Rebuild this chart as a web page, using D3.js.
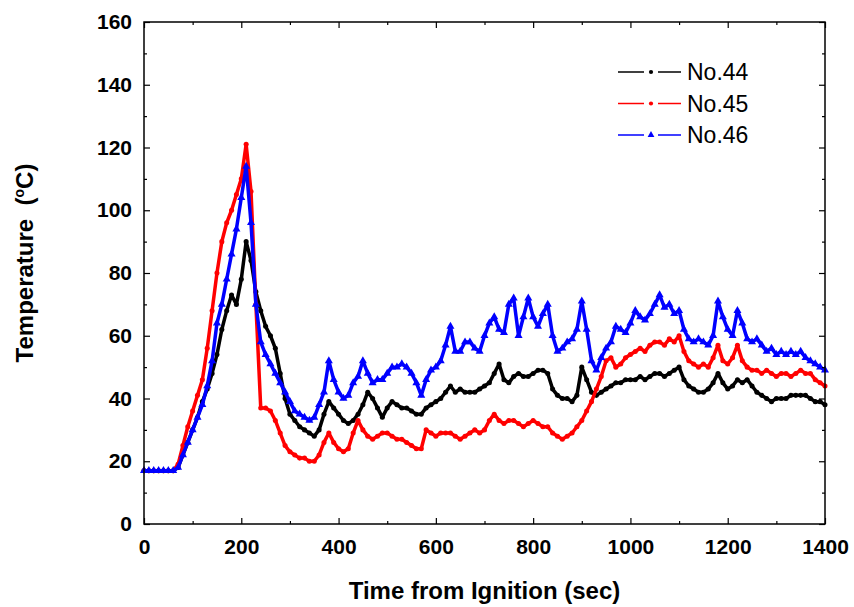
<!DOCTYPE html>
<html>
<head>
<meta charset="utf-8">
<script src="https://cdn.jsdelivr.net/npm/d3@7"></script>
<style>
  body { margin: 0; background: #fff; }
  svg { display: block; font-family: "Liberation Sans", Arial, sans-serif; }
  .axis path { display: none; }
  .axis line { stroke: #000; stroke-width: 1.2; }
  .axis text { font-size: 21px; font-weight: bold; fill: #000; }
</style>
</head>
<body>
<svg width="854" height="607"></svg>
<script>
// time axis, one reading every 10 s
const time = d3.range(0, 1401, 10);

// 10 values per row (0-90, 100-190, ...)
const no44 = [
  17,17,17,17,17,17,17,18,22,26,
  30,34,39,43,48,54,62,68,73,70,
  78,90,84,74,68,63,60,56,48,40,
  35,33,31,30,29,28,30,35,39,37,
  35,33,32,33,35,38,42,40,37,34,
  37,39,38,37,37,36,35,35,37,38,
  39,40,42,44,42,43,42,42,42,43,
  44,45,48,51,46,45,47,48,47,47,
  48,49,49,48,43,41,40,40,39,41,
  50,46,42,41,42,43,44,45,45,46,
  46,46,47,46,47,48,48,47,48,49,
  50,46,44,43,42,42,43,45,48,45,
  43,44,46,45,46,44,42,41,40,39,
  40,40,40,41,41,41,41,40,39,39,
  38
];

const no45 = [
  17,17,17,17,17,17,17,19,25,31,
  36,41,46,56,68,80,90,96,100,105,
  110,121,106,70,37,37,36,33,29,25,
  23,22,21,21,20,20,22,26,29,26,
  24,23,24,29,33,30,28,27,28,29,
  29,28,27,27,26,25,24,24,30,29,
  28,29,29,29,28,27,28,29,30,29,
  30,33,35,33,32,33,33,32,31,32,
  33,32,31,31,29,28,27,28,29,31,
  33,36,39,43,47,52,53,50,51,53,
  54,55,56,55,57,58,58,57,59,58,
  60,55,52,51,50,51,50,53,57,52,
  51,53,57,52,50,49,49,48,49,48,
  47,48,48,47,48,49,48,48,46,45,
  44
];

const no46 = [
  17,17,17,17,17,17,17,18,22,26,
  30,34,38,44,52,64,70,78,86,94,
  104,114,96,70,58,54,51,48,45,42,
  39,36,35,34,33,34,38,42,52,46,
  42,40,41,45,47,52,48,45,46,46,
  48,50,50,51,50,48,45,41,46,49,
  50,52,57,63,55,55,58,58,56,55,
  60,64,66,62,61,70,72,60,66,72,
  66,63,67,70,60,55,56,58,59,62,
  71,62,52,49,53,56,58,63,62,61,
  64,68,66,65,67,70,73,69,70,67,
  68,62,59,58,59,58,57,60,71,66,
  62,60,68,64,59,58,59,57,55,56,
  54,55,54,55,54,55,53,52,51,50,
  49
];

const seriesNames = ["No.44", "No.45", "No.46"];
const seriesValues = [no44, no45, no46];
const seriesColors = ["#000000", "#ff0000", "#0000ff"];
const seriesSymbols = [d3.symbolCircle, d3.symbolCircle, d3.symbolTriangle];

const xTicks = [0, 200, 400, 600, 800, 1000, 1200, 1400];
const yTicks = [0, 20, 40, 60, 80, 100, 120, 140, 160];

const svg = d3.select("svg");
const margin = { left: 144, top: 22, right: 29, bottom: 83 };
const width = 854, height = 607;

const x = d3.scaleLinear()
    .domain([0, 1400])
    .range([margin.left, width - margin.right]);

const y = d3.scaleLinear()
    .domain([0, 160])
    .range([height - margin.bottom, margin.top]);

const plot = svg.append("g");

// data
const line = d3.line()
    .x((d, i) => x(time[i]))
    .y(d => y(d));

seriesValues.forEach((vals, s) => {
    plot.append("path")
        .datum(vals)
        .attr("fill", "none")
        .attr("stroke", seriesColors[s])
        .attr("stroke-width", 3.5)
        .attr("stroke-linejoin", "round")
        .attr("d", line);

    plot.selectAll(".pt" + s)
        .data(vals)
        .enter()
        .append("path")
        .attr("class", "pt" + s)
        .attr("transform", (d, i) => `translate(${x(time[i])},${y(d)})`)
        .attr("d", d3.symbol().type(seriesSymbols[s]).size(s === 2 ? 28 : 20))
        .attr("fill", seriesColors[s]);
});

// axes, ticks pointing inside on all four sides
const xMinor = d3.range(100, 1400, 200);
const yMinor = d3.range(10, 160, 20);
const fmt = d3.format("d");

svg.append("g")
    .attr("class", "axis")
    .attr("transform", `translate(0,${y(0)})`)
    .call(d3.axisBottom(x).tickValues(xTicks).tickFormat(fmt).tickSizeInner(-6).tickSizeOuter(0).tickPadding(15));
svg.append("g")
    .attr("class", "axis")
    .attr("transform", `translate(0,${y(0)})`)
    .call(d3.axisBottom(x).tickValues(xMinor).tickSizeInner(-3).tickSizeOuter(0).tickFormat(""));
svg.append("g")
    .attr("class", "axis")
    .attr("transform", `translate(0,${y(160)})`)
    .call(d3.axisTop(x).tickValues(xTicks).tickSizeInner(-6).tickSizeOuter(0).tickFormat(""));
svg.append("g")
    .attr("class", "axis")
    .attr("transform", `translate(0,${y(160)})`)
    .call(d3.axisTop(x).tickValues(xMinor).tickSizeInner(-3).tickSizeOuter(0).tickFormat(""));

svg.append("g")
    .attr("class", "axis")
    .attr("transform", `translate(${x(0)},0)`)
    .call(d3.axisLeft(y).tickValues(yTicks).tickFormat(fmt).tickSizeInner(-6).tickSizeOuter(0).tickPadding(12));
svg.append("g")
    .attr("class", "axis")
    .attr("transform", `translate(${x(0)},0)`)
    .call(d3.axisLeft(y).tickValues(yMinor).tickSizeInner(-3).tickSizeOuter(0).tickFormat(""));
svg.append("g")
    .attr("class", "axis")
    .attr("transform", `translate(${x(1400)},0)`)
    .call(d3.axisRight(y).tickValues(yTicks).tickSizeInner(-6).tickSizeOuter(0).tickFormat(""));
svg.append("g")
    .attr("class", "axis")
    .attr("transform", `translate(${x(1400)},0)`)
    .call(d3.axisRight(y).tickValues(yMinor).tickSizeInner(-3).tickSizeOuter(0).tickFormat(""));

// frame
svg.append("rect")
    .attr("x", x(0))
    .attr("y", y(160))
    .attr("width", x(1400) - x(0))
    .attr("height", y(0) - y(160))
    .attr("fill", "none")
    .attr("stroke", "#000")
    .attr("stroke-width", 1.5);

// axis titles
svg.append("text")
    .attr("x", (x(0) + x(1400)) / 2)
    .attr("y", 599)
    .attr("text-anchor", "middle")
    .attr("font-size", 24)
    .attr("font-weight", "bold")
    .text("Time from Ignition (sec)");

const yt = svg.append("text")
    .attr("transform", "translate(33,263) rotate(-90)")
    .attr("text-anchor", "middle")
    .attr("font-size", 24)
    .attr("font-weight", "bold");
yt.append("tspan").text("Temperature\u00a0\u00a0(");
yt.append("tspan").attr("font-size", 14).attr("dy", -9).text("o");
yt.append("tspan").attr("dy", 9).text("C)");

// legend
const legend = svg.append("g");
seriesNames.forEach((name, s) => {
    const ly = 72 + s * 31.5;
    const g = legend.append("g");
    g.append("line")
        .attr("x1", 618).attr("x2", 644).attr("y1", ly).attr("y2", ly)
        .attr("stroke", seriesColors[s]).attr("stroke-width", 1.5);
    g.append("line")
        .attr("x1", 658).attr("x2", 681).attr("y1", ly).attr("y2", ly)
        .attr("stroke", seriesColors[s]).attr("stroke-width", 1.5);
    g.append("path")
        .attr("transform", `translate(651,${ly})`)
        .attr("d", d3.symbol().type(seriesSymbols[s]).size(s === 2 ? 20 : 14))
        .attr("fill", seriesColors[s]);
    g.append("text")
        .attr("x", 687)
        .attr("y", ly + 8)
        .attr("font-size", 23)
        .text(name);
});
</script>
</body>
</html>
